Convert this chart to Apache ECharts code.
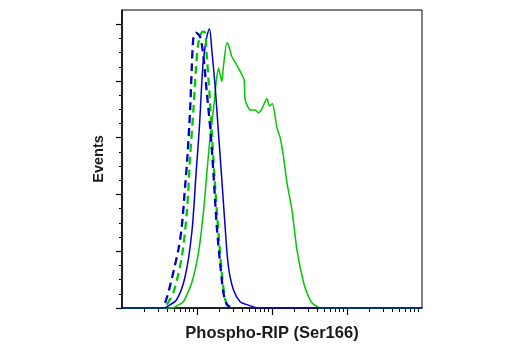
<!DOCTYPE html>
<html>
<head>
<meta charset="utf-8">
<script src="https://cdn.jsdelivr.net/npm/echarts@6/dist/echarts.min.js"></script>
<style>
  html, body { margin: 0; padding: 0; background: #fff; }
  #chart { width: 520px; height: 350px; }
</style>
</head>
<body>
<div id="chart"></div>
<script>
// x = log10 of intensity (decades), y = events
const blueDashed = [
  [1.574, 9], [1.618, 27], [1.752, 103], [1.797, 143], [1.841, 214],
  [1.872, 266], [1.908, 349], [1.931, 425], [1.952, 476], [1.984, 485], [2.041, 478],
  [2.085, 443], [2.131, 379], [2.175, 319], [2.219, 238], [2.264, 143], [2.308, 80],
  [2.352, 27], [2.397, 6], [2.442, 2]
];
const greenDashed = [
  [1.597, 6], [1.685, 27], [1.797, 90], [1.864, 168], [1.908, 266],
  [1.952, 349], [1.988, 425], [2.019, 467], [2.077, 487], [2.108, 485], [2.131, 443],
  [2.166, 379], [2.197, 309], [2.242, 214], [2.286, 133], [2.331, 62], [2.375, 15],
  [2.419, 2]
];
const blueSolid = [
  [1.0, 0], [1.56, 0], [1.597, 2], [1.730, 15], [1.841, 55], [1.931, 133], [1.988, 238],
  [2.032, 319], [2.077, 425], [2.108, 460], [2.131, 478], [2.166, 492], [2.197, 455],
  [2.242, 390], [2.286, 309], [2.331, 226], [2.375, 143], [2.419, 73], [2.486, 32],
  [2.575, 11], [2.665, 6], [2.753, 2], [2.82, 0], [5.0, 0]
];
const greenSolid = [
  [1.0, 0], [1.66, 0], [1.708, 2], [1.818, 11], [1.931, 45], [2.019, 97], [2.085, 168],
  [2.139, 249], [2.175, 302], [2.219, 349], [2.255, 397], [2.286, 423], [2.331, 399],
  [2.352, 425], [2.397, 467], [2.419, 464], [2.464, 443], [2.531, 428], [2.598, 411],
  [2.629, 402], [2.642, 367], [2.709, 349], [2.776, 349], [2.820, 344], [2.865, 351],
  [2.932, 369], [2.967, 356], [3.007, 360], [3.065, 318], [3.109, 300], [3.154, 266],
  [3.199, 221], [3.266, 173], [3.332, 103], [3.421, 45], [3.487, 20], [3.533, 9],
  [3.599, 3], [3.643, 0], [5.0, 0]
];

// tick positions
const xMajorTicks = [2, 3, 4];
const minorMultipliers = [2, 3, 4, 5, 6, 7, 8, 9];
const decades = [1, 2, 3, 4];
const yMajorTicks = [0, 100, 200, 300, 400, 500];
const yMinorStep = 25;

const xMinorTicks = [];
decades.forEach(d => minorMultipliers.forEach(m => xMinorTicks.push(d + Math.log10(m))));
const yMinorTicks = [];
for (let v = yMinorStep; v < 500; v += yMinorStep) {
  if (v % 100 !== 0) yMinorTicks.push(v);
}

const BLUE = '#0000cd';
const GREEN = '#00c800';
const chart = echarts.init(document.getElementById('chart'));

const baseX = {
  type: 'value', min: 1, max: 5, position: 'bottom',
  splitLine: { show: false }, axisLabel: { show: false }
};
const baseY = {
  type: 'value', min: 0, max: 525, position: 'left',
  splitLine: { show: false }, axisLabel: { show: false }
};

chart.setOption({
  animation: false,
  grid: {
    left: 122, right: 98, top: 10, bottom: 42,
    show: true, borderColor: '#000', borderWidth: 1
  },
  xAxis: [
    Object.assign({}, baseX, {
      axisLine: { lineStyle: { color: '#000', width: 1.5 } },
      axisTick: { show: true, length: 7, customValues: xMajorTicks, lineStyle: { color: '#000', width: 1.2 } },
      name: 'Phospho-RIP (Ser166)',
      nameLocation: 'middle',
      nameGap: 17,
      nameTextStyle: { fontFamily: 'Liberation Sans', fontWeight: 'bold', fontSize: 16.5, color: '#1a1a1a' }
    }),
    Object.assign({}, baseX, {
      axisLine: { show: false },
      axisTick: { show: true, length: 4, customValues: xMinorTicks, lineStyle: { color: '#000', width: 1 } }
    })
  ],
  yAxis: [
    Object.assign({}, baseY, {
      axisLine: { show: true, lineStyle: { color: '#000', width: 1.5 } },
      axisTick: { show: true, length: 6, customValues: yMajorTicks, lineStyle: { color: '#000', width: 1.2 } },
      name: 'Events',
      nameLocation: 'middle',
      nameGap: 16,
      nameTextStyle: { fontFamily: 'Liberation Sans', fontWeight: 'bold', fontSize: 14.5, color: '#1a1a1a' }
    }),
    Object.assign({}, baseY, {
      axisLine: { show: false },
      axisTick: { show: true, length: 3, customValues: yMinorTicks, lineStyle: { color: '#000', width: 1 } }
    })
  ],
  series: [
    {
      type: 'line', data: greenSolid, showSymbol: false, smooth: 0.2,
      lineStyle: { color: GREEN, width: 1.5 }
    },
    {
      type: 'line', data: blueSolid, showSymbol: false, smooth: 0.3,
      lineStyle: { color: BLUE, width: 1.5 }
    },
    {
      type: 'line', data: greenDashed, showSymbol: false, smooth: 0.3,
      lineStyle: { color: GREEN, width: 2.3, type: [8, 5] }
    },
    {
      type: 'line', data: blueDashed, showSymbol: false, smooth: 0.3,
      lineStyle: { color: BLUE, width: 2.3, type: [8, 5] }
    }
  ]
});
</script>
</body>
</html>
